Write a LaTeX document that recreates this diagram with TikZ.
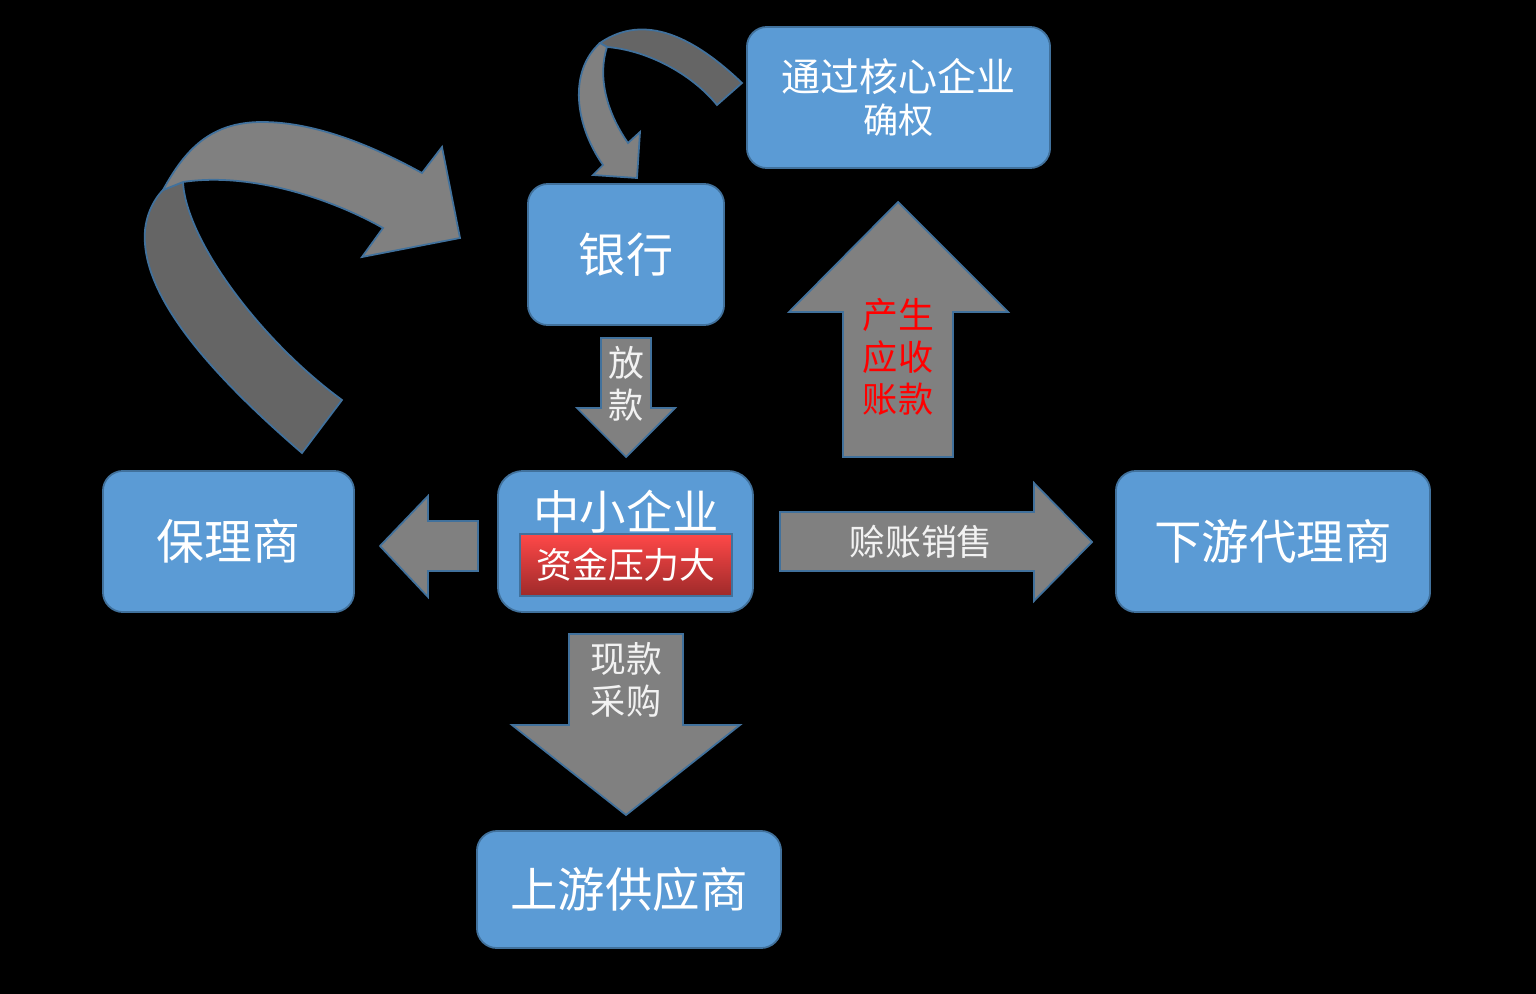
\documentclass[tikz,border=0pt]{standalone}
\usepackage{fontspec}
\newfontfamily\cjk{Noto Sans CJK SC}
\definecolor{boxblue}{HTML}{5B9BD5}
\definecolor{edgeblue}{HTML}{41719C}
\definecolor{arrowgray}{HTML}{808080}
\definecolor{darkgray2}{HTML}{656565}
\definecolor{redtop}{HTML}{FF4848}
\definecolor{redbot}{HTML}{9E2A2A}
\definecolor{lighttext}{HTML}{F2F2F2}
\tikzset{
  box/.style={rounded corners=0.2cm, fill=boxblue, draw=edgeblue, line width=0.5pt,
    text=white, align=center, inner sep=0pt, font=\cjk},
  blockarrow/.style={fill=arrowgray, draw=edgeblue, line width=0.5pt, line join=miter},
  backstrip/.style={fill=darkgray2, draw=edgeblue, line width=0.5pt},
  arrowtext/.style={text=lighttext, align=center, inner sep=0pt, font=\cjk},
}
\begin{document}
\begin{tikzpicture}[x=0.01cm,y=-0.01cm]
\fill[black] (0,0) rectangle (1536,994);
\useasboundingbox (0,0) rectangle (1536,994);

% boxes
\node[box, minimum width=3.03cm, minimum height=1.41cm] (core) at (898.5,97.5)
  {\fontsize{11.1}{13.4}\selectfont 通过核心企业\\确权};
\node[box, minimum width=1.96cm, minimum height=1.41cm] (bank) at (626,254.5)
  {\fontsize{13.4}{15}\selectfont 银行};
\node[box, minimum width=2.55cm, minimum height=1.41cm, rounded corners=0.25cm] (sme) at (625.5,541.5) {};
\node[text=white, font=\cjk, inner sep=0pt] (smetitle) at (626,512)
  {\fontsize{13.2}{15}\selectfont 中小企业};
\node[top color=redtop, bottom color=redbot, draw=edgeblue, line width=0.5pt,
  minimum width=2.12cm, minimum height=0.62cm, inner sep=0pt, text=white, font=\cjk]
  (pressure) at (626,565) {\fontsize{10.2}{12}\selectfont 资金压力大};
\node[box, minimum width=2.51cm, minimum height=1.41cm] (factor) at (228.5,541.5)
  {\fontsize{13.6}{15}\selectfont 保理商};
\node[box, minimum width=3.14cm, minimum height=1.41cm] (down) at (1273,541.5)
  {\fontsize{13.5}{15}\selectfont 下游代理商};
\node[box, minimum width=3.04cm, minimum height=1.17cm] (up) at (629,889.5)
  {\fontsize{13.5}{15}\selectfont 上游供应商};

% straight block arrows
\draw[blockarrow] (601,338) -- (651,338) -- (651,408) -- (675,408) -- (626,457)
  -- (577,408) -- (601,408) -- cycle;
\node[arrowtext] (loan) at (626,384) {\fontsize{10.2}{12}\selectfont 放\\款};

\draw[blockarrow] (843,457) -- (843,312) -- (789,312) -- (898,202) -- (1008,312)
  -- (953,312) -- (953,457) -- cycle;
\node[arrowtext, text=red] (recv) at (898,357)
  {\fontsize{10.2}{12.2}\selectfont 产生\\应收\\账款};

\draw[blockarrow] (478,521) -- (428,521) -- (428,496) -- (380,546) -- (428,597)
  -- (428,571) -- (478,571) -- cycle;

\draw[blockarrow] (780,512) -- (1034,512) -- (1034,483) -- (1092,542) -- (1034,601)
  -- (1034,571) -- (780,571) -- cycle;
\node[arrowtext] (credit) at (921,542) {\fontsize{10.2}{12}\selectfont 赊账销售};

\draw[blockarrow] (569,634) -- (683,634) -- (683,725) -- (740,725) -- (626,815)
  -- (512,725) -- (569,725) -- cycle;
\node[arrowtext] (cash) at (626,680) {\fontsize{10.2}{12.5}\selectfont 现款\\采购};

% big curved arrow (factor -> bank)
\draw[backstrip] (302,453) .. controls (200,365) and (140,290) .. (145,230)
  .. controls (147,212) and (155,198) .. (163,190) -- (183,182)
  .. controls (186,240) and (260,340) .. (342,400) -- cycle;
\draw[blockarrow] (163,190) .. controls (185,150) and (210,122) .. (262,122)
  .. controls (320,122) and (380,150) .. (422,173) -- (442,147) -- (460,238)
  -- (362,257) -- (383,228) .. controls (330,198) and (250,172) .. (183,182) -- cycle;

% small curved arrow (core -> bank)
\draw[backstrip] (742,83) .. controls (695,38) and (645,12) .. (600,43)
  -- (607,47) .. controls (645,50) and (690,72) .. (717,105) -- cycle;
\draw[blockarrow] (600,43) .. controls (568,72) and (575,125) .. (603,165)
  -- (593,175) -- (637,178) -- (640,132) -- (628,143)
  .. controls (605,110) and (598,75) .. (607,47) -- cycle;
\end{tikzpicture}
\end{document}
